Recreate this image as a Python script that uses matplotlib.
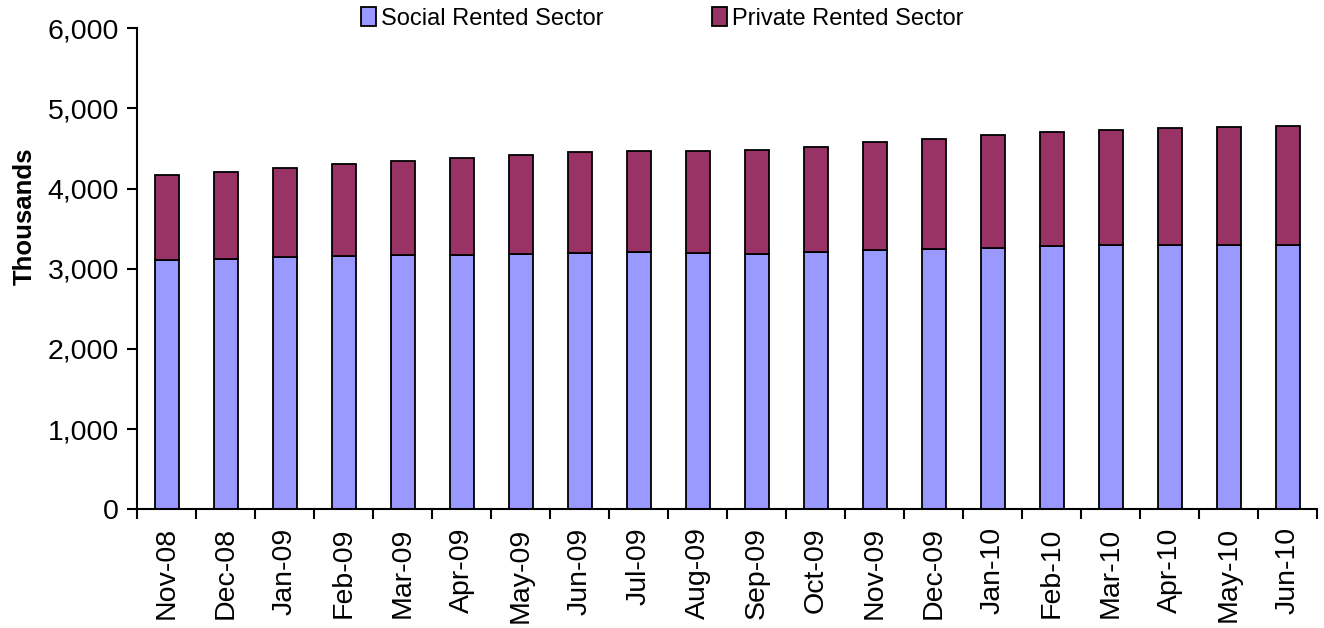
import matplotlib.pyplot as plt
import numpy as np

plt.rcParams['font.family'] = ['Liberation Sans', 'DejaVu Sans']

months = ['Nov-08', 'Dec-08', 'Jan-09', 'Feb-09', 'Mar-09', 'Apr-09', 'May-09',
          'Jun-09', 'Jul-09', 'Aug-09', 'Sep-09', 'Oct-09', 'Nov-09', 'Dec-09',
          'Jan-10', 'Feb-10', 'Mar-10', 'Apr-10', 'May-10', 'Jun-10']
social = [3112, 3121, 3146, 3158, 3167, 3175, 3187, 3196, 3204, 3196,
          3187, 3204, 3233, 3246, 3262, 3279, 3291, 3291, 3291, 3295]
total = [4175, 4204, 4254, 4304, 4350, 4388, 4417, 4458, 4475, 4475,
         4487, 4525, 4585, 4620, 4666, 4712, 4729, 4759, 4766, 4779]
private = [t - s for t, s in zip(total, social)]

fig = plt.figure(figsize=(13.24, 6.28), dpi=100)
ax = fig.add_axes([0.1037, 0.189, 0.8912, 0.766])

x = np.arange(len(months))
w = 0.41
b1 = ax.bar(x, social, w, color='#9999FF', edgecolor='black', linewidth=1.3,
            label='Social Rented Sector')
b2 = ax.bar(x, private, w, bottom=social, color='#993366', edgecolor='black',
            linewidth=1.3, label='Private Rented Sector')

ax.set_xlim(-0.5, len(months) - 0.5)
ax.set_ylim(0, 6000)
ax.set_yticks(range(0, 6001, 1000))
ax.set_yticklabels([f'{v:,}' for v in range(0, 6001, 1000)], fontsize=20.5)
ax.set_xticks(x)
ax.set_xticklabels(months, rotation=90, fontsize=20.5)
ax.tick_params(axis='x', which='major', length=0, pad=13)
ax.set_xticks(np.arange(-0.5, len(months), 1), minor=True)
ax.tick_params(axis='x', which='minor', length=7, width=1.5, direction='out')
ax.tick_params(axis='y', length=7, width=1.5, direction='out', pad=6)

for s in ['top', 'right']:
    ax.spines[s].set_visible(False)
for s in ['left', 'bottom']:
    ax.spines[s].set_linewidth(1.5)

ax.set_ylabel('Thousands', fontsize=18.5, fontweight='bold')
ax.yaxis.set_label_coords(-0.085, 0.61)

fig.legend(handles=[b1, b2], loc='center', bbox_to_anchor=(0.500, 0.971),
           ncol=2, frameon=False, fontsize=17, handlelength=0.65,
           handleheight=0.85, handletextpad=0.2, columnspacing=4.6)

fig.savefig('out.png', dpi=100)
